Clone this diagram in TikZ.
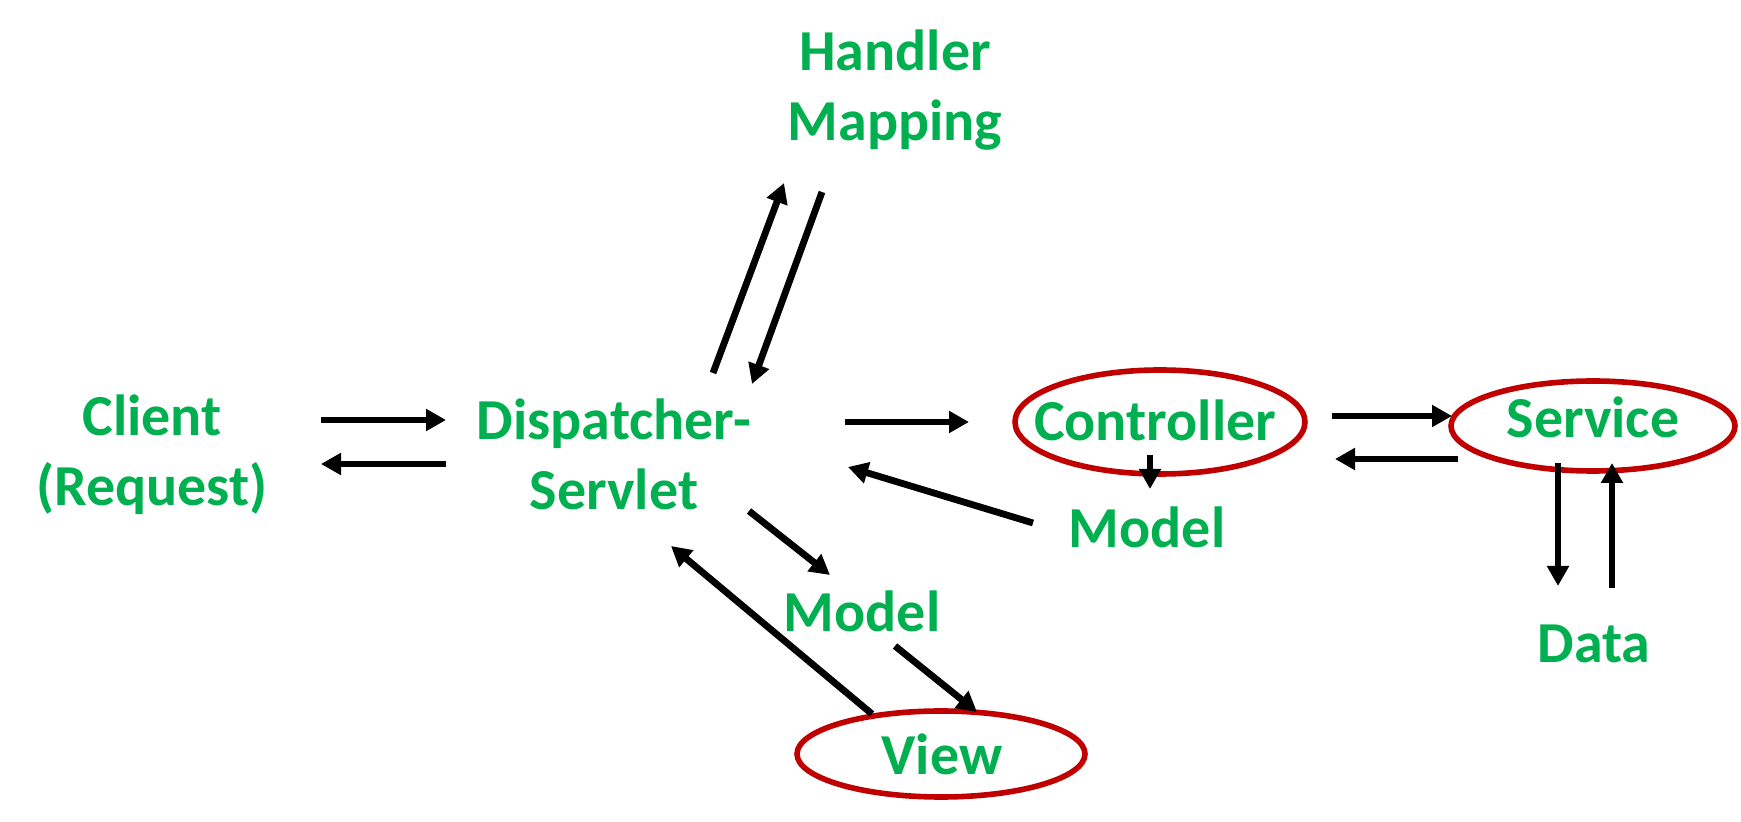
\documentclass[tikz,border=0pt]{standalone}
\usepackage{fontspec}
\setmainfont{Carlito}
\usetikzlibrary{arrows.meta, shapes.geometric}
\definecolor{mvcgreen}{HTML}{00B050}
\definecolor{mvcred}{HTML}{C00000}
\tikzset{
  part/.style={
    text=mvcgreen,
    font=\fontsize{29}{35}\selectfont\bfseries,
    align=center,
    inner sep=0pt
  },
  ring/.style={ellipse, draw=mvcred, line width=2.8pt, inner sep=0pt},
  flow/.style={
    -{Triangle[length=10pt,width=10.5pt]},
    line width=3.4pt,
    draw=black
  }
}

\begin{document}
\begin{tikzpicture}[x=0.5pt,y=-0.5pt]
\useasboundingbox (0,0) rectangle (1741,822);

% components
\node[part] (client) at (152,455) {Client\\(Request)};
\node[part] (disp) at (614,454) {Dispatcher-\\Servlet};
\node[part] (hmap) at (895,90) {Handler\\Mapping};
\node[ring, minimum width=145pt, minimum height=52pt] (ctrlring) at (1160,422) {};
\node[part] (ctrl) at (1155,420) {Controller};
\node[part] (cmodel) at (1147,527) {Model};
\node[ring, minimum width=142pt, minimum height=45pt] (servring) at (1593,426) {};
\node[part] (serv) at (1593,417) {Service};
\node[part] (data) at (1594,644) {Data};
\node[part] (vmodel) at (862,611) {Model};
\node[ring, minimum width=144pt, minimum height=43pt] (viewring) at (941,754) {};
\node[part] (view) at (942,754) {View};

% arrow ends
\coordinate (c-out) at (321,420);  \coordinate (d-in) at (446,420);
\coordinate (d-out) at (446,464);  \coordinate (c-in) at (321,464);
\coordinate (d-up) at (713,373);   \coordinate (h-in) at (784,183);
\coordinate (h-out) at (822,192);  \coordinate (d-top) at (752,384);
\coordinate (d-right) at (845,422); \coordinate (k-in) at (969,422);
\coordinate (m-out) at (1033,523); \coordinate (d-back) at (848,467);
\coordinate (k-down) at (1150,455); \coordinate (m-in) at (1150,489);
\coordinate (k-out) at (1332,416); \coordinate (s-in) at (1452,416);
\coordinate (s-out) at (1458,459); \coordinate (k-back) at (1335,459);
\coordinate (s-down) at (1558,463); \coordinate (g-in) at (1558,586);
\coordinate (g-out) at (1612,588); \coordinate (s-up) at (1612,463);
\coordinate (d-low) at (749,511);  \coordinate (vm-in) at (830,575);
\coordinate (vm-out) at (895,646); \coordinate (v-in) at (977,712);
\coordinate (v-out) at (872,714);  \coordinate (d-bot) at (671,546);

% request flow
\draw[flow] (c-out) -- (d-in);
\draw[flow] (d-out) -- (c-in);
\draw[flow] (d-up) -- (h-in);
\draw[flow] (h-out) -- (d-top);
\draw[flow] (d-right) -- (k-in);
\draw[flow] (m-out) -- (d-back);
\draw[flow] (k-down) -- (m-in);
\draw[flow] (k-out) -- (s-in);
\draw[flow] (s-out) -- (k-back);
\draw[flow] (s-down) -- (g-in);
\draw[flow] (g-out) -- (s-up);
\draw[flow] (d-low) -- (vm-in);
\draw[flow] (vm-out) -- (v-in);
\draw[flow] (v-out) -- (d-bot);
\end{tikzpicture}
\end{document}
